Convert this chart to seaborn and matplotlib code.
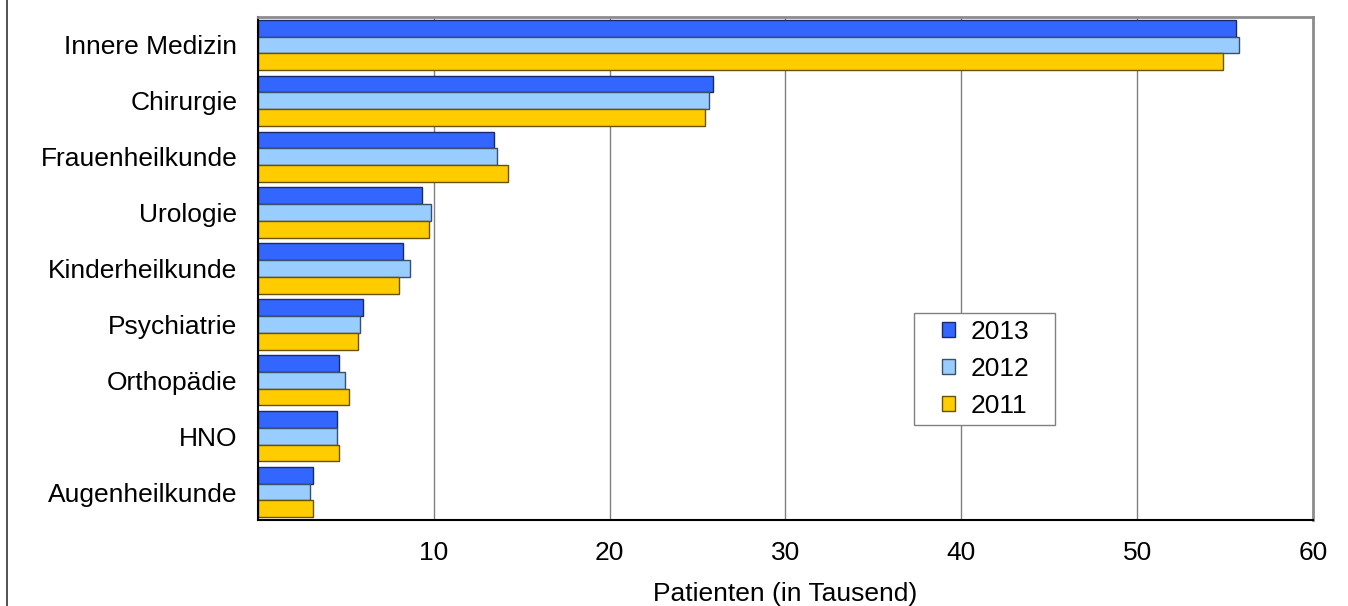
import matplotlib
matplotlib.use("Agg")
import matplotlib.pyplot as plt
from matplotlib.patches import Patch, Rectangle
from matplotlib.lines import Line2D
import numpy as np
import pandas as pd
import seaborn as sns

# data (Patienten in Tausend)
categories = ["Innere Medizin", "Chirurgie", "Frauenheilkunde", "Urologie",
              "Kinderheilkunde", "Psychiatrie", "Orthopädie", "HNO", "Augenheilkunde"]
years = ["2013", "2012", "2011"]
vals_2013 = [55.6, 25.9, 13.4, 9.3, 8.25, 5.95, 4.6, 4.5, 3.1]
vals_2012 = [55.8, 25.65, 13.6, 9.85, 8.65, 5.8, 4.95, 4.5, 2.95]
vals_2011 = [54.9, 25.4, 14.2, 9.7, 8.0, 5.7, 5.15, 4.6, 3.1]
colors = ["#3366FF", "#99CCFF", "#FFCC00"]
edges = ["#1a2a66", "#3a4f6a", "#665200"]
xticks = [10, 20, 30, 40, 50, 60]

df = pd.DataFrame({
    "Abteilung": categories * 3,
    "Jahr": [y for y in years for _ in categories],
    "Patienten": vals_2013 + vals_2012 + vals_2011,
})

sns.set_style("white")
plt.rcParams['font.family'] = ['Liberation Sans', 'DejaVu Sans']
plt.rcParams['text.color'] = 'black'
plt.rcParams['axes.labelcolor'] = 'black'
plt.rcParams['xtick.color'] = 'black'
plt.rcParams['ytick.color'] = 'black'

fs = 19

fig = plt.figure(figsize=(13.48, 6.06), dpi=100)
ax = fig.add_axes([0.1914, 0.1419, 0.974 - 0.1914, 0.972 - 0.1419])

sns.barplot(data=df, y="Abteilung", x="Patienten", hue="Jahr", orient="h",
            palette=colors, hue_order=years, order=categories,
            width=0.9, gap=0, ax=ax, legend=False, saturation=1)

# edge colors per series
for cont, ec in zip(ax.containers, edges):
    for bar in cont:
        bar.set_edgecolor(ec)
        bar.set_linewidth(1.0)

ax.set_xlim(0, 60)
ax.set_ylim(len(categories) - 0.5, -0.5)
ax.set_xticks([0] + xticks)
ax.set_xticklabels([""] + [str(t) for t in xticks])
ax.set_xlabel("Patienten (in Tausend)", fontsize=fs, labelpad=12)
ax.set_ylabel("")

ax.set_yticks(range(len(categories)))
ax.set_yticklabels(categories, fontsize=fs)
ax.set_yticks(np.arange(-0.5, len(categories), 1), minor=True)
ax.tick_params(axis="y", which="major", length=0, pad=15)
ax.tick_params(axis="y", which="minor", length=7, width=1, color="black", direction="out")
ax.tick_params(axis="x", which="major", length=8, width=1, color="black", direction="out",
               labelsize=fs, pad=7)

for t in xticks[:-1]:
    ax.axvline(t, color="#808080", lw=1, zorder=0)

for side in ["top", "right"]:
    ax.spines[side].set_color("#8c8c8c")
    ax.spines[side].set_linewidth(2)
for side in ["left", "bottom"]:
    ax.spines[side].set_color("black")
    ax.spines[side].set_linewidth(1.5)

# legend frame drawn separately (wider than tall padding as in the original)
bx, by, bw, bh = 0.622, 0.189, 0.1336, 0.2227
ax.add_patch(Rectangle((bx, by), bw, bh, transform=ax.transAxes, facecolor="white",
                       edgecolor="#808080", lw=1, zorder=5))
handles = [Patch(facecolor=c, edgecolor=e, linewidth=1, label=y)
           for c, e, y in zip(colors, edges, years)]
leg = ax.legend(handles=handles, loc="center", bbox_to_anchor=(bx + bw / 2 + 0.001, by + bh / 2),
                fontsize=fs, frameon=False, handlelength=0.5,
                handleheight=0.5, handletextpad=0.6, labelspacing=0.5,
                borderpad=0.2, borderaxespad=0)
leg.set_zorder(6)

# outer left border line of the picture
fig.add_artist(Line2D([0.0055, 0.0055], [0, 1], color="#333333", lw=1.2,
                      transform=fig.transFigure))

fig.savefig("out.png", dpi=100)
